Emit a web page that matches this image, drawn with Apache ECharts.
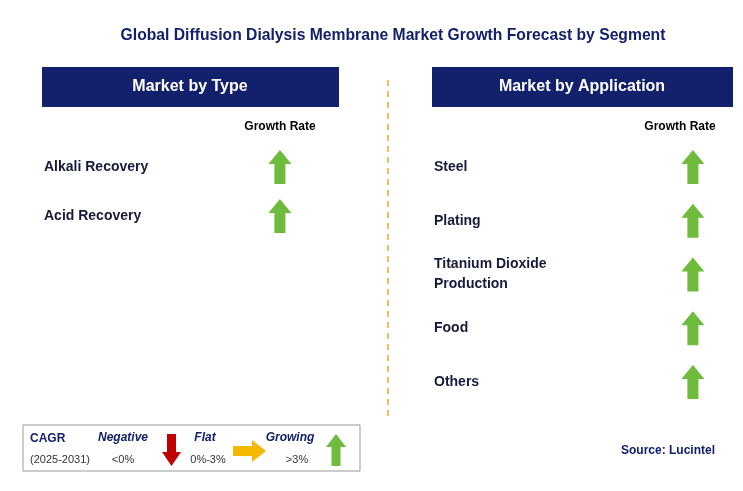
<!DOCTYPE html>
<html><head><meta charset="utf-8">
<script src="https://cdn.jsdelivr.net/npm/echarts@6/dist/echarts.min.js"></script>
<style>html,body{margin:0;padding:0;background:#fff}#c{width:743px;height:491px}</style>
</head><body><div id="c"></div>
<script>
const title = 'Global Diffusion Dialysis Membrane Market Growth Forecast by Segment';
const typeCategories = ['Alkali Recovery', 'Acid Recovery'];
const typeGrowth = ['up', 'up'];
const appCategories = ['Steel', 'Plating', 'Titanium Dioxide\nProduction', 'Food', 'Others'];
const appGrowth = ['up', 'up', 'up', 'up', 'up'];
const navy = '#13206b', txt = '#161a3c', green = '#6fbb3c';
const upArrow = 'path://M5,0 L10,6.2 L7.4,6.2 L7.4,15 L2.6,15 L2.6,6.2 L0,6.2 Z';
const F = 'Liberation Sans, Arial, sans-serif';

function rows(cats, gridIdx, arrowX) {
  return [
    {type:'scatter', xAxisIndex:gridIdx, yAxisIndex:gridIdx, symbolSize:0, silent:true,
     itemStyle:{opacity:1},
     data: cats.map(c => [0, c]),
     label:{show:true, position:'right', distance:0, formatter:p=>p.data[1], color:txt, opacity:1,
            fontFamily:F, fontWeight:'bold', fontSize:14, lineHeight:20}},
    {type:'scatter', xAxisIndex:gridIdx, yAxisIndex:gridIdx, symbol:upArrow, symbolSize:[23,34], silent:true,
     itemStyle:{color:green, opacity:1},
     data: cats.map((c,i) => [arrowX, c])}
  ];
}
const chart = echarts.init(document.getElementById('c'));
const hiddenX = i => ({type:'value', gridIndex:i, min:0, max:1, show:false});
const hiddenY = (i,cats) => ({type:'category', gridIndex:i, data:cats, inverse:true, boundaryGap:false, show:false});
chart.setOption({
  animation:false,
  title:{text:title, left:388, top:23, textAlign:'center',
    textStyle:{color:navy, fontFamily:F, fontSize:15.7, fontWeight:'bold'}},
  grid:[{left:44, width:296, top:167, height:49},
        {left:434, width:300, top:167, height:215}],
  xAxis:[hiddenX(0), hiddenX(1)],
  yAxis:[hiddenY(0,typeCategories), hiddenY(1,appCategories)],
  series:[...rows(typeCategories,0,0.797), ...rows(appCategories,1,0.863)],
  graphic:[
    {type:'rect', shape:{x:42,y:67,width:297,height:40}, style:{fill:navy}},
    {type:'text', x:190, y:87, style:{text:'Market by Type', fill:'#fff', font:'bold 16px '+F, align:'center', verticalAlign:'middle'}},
    {type:'rect', shape:{x:432,y:67,width:301,height:40}, style:{fill:navy}},
    {type:'text', x:582, y:87, style:{text:'Market by Application', fill:'#fff', font:'bold 16px '+F, align:'center', verticalAlign:'middle'}},
    {type:'text', x:280, y:127, style:{text:'Growth Rate', fill:'#000', font:'bold 12px '+F, align:'center', verticalAlign:'middle'}},
    {type:'text', x:680, y:127, style:{text:'Growth Rate', fill:'#000', font:'bold 12px '+F, align:'center', verticalAlign:'middle'}},
    {type:'line', shape:{x1:388,y1:80,x2:388,y2:420}, style:{stroke:'#f5a623', lineWidth:1.5, lineDash:[6,5]}},
    {type:'rect', shape:{x:23,y:425,width:337,height:46}, style:{fill:'#fff', stroke:'#999', lineWidth:1}},
    {type:'text', x:30, y:439, style:{text:'CAGR', fill:navy, font:'bold 12px '+F, verticalAlign:'middle'}},
    {type:'text', x:30, y:460, style:{text:'(2025-2031)', fill:'#333', font:'11px '+F, verticalAlign:'middle'}},
    {type:'text', x:123, y:438, style:{text:'Negative', fill:navy, font:'italic bold 12px '+F, align:'center', verticalAlign:'middle'}},
    {type:'text', x:123, y:460, style:{text:'<0%', fill:'#333', font:'11px '+F, align:'center', verticalAlign:'middle'}},
    {type:'polygon', shape:{points:[[167,434],[176,434],[176,452],[181,452],[171.5,466],[162,452],[167,452]]}, style:{fill:'#c00000'}},
    {type:'text', x:205, y:438, style:{text:'Flat', fill:navy, font:'italic bold 12px '+F, align:'center', verticalAlign:'middle'}},
    {type:'text', x:208, y:460, style:{text:'0%-3%', fill:'#333', font:'11px '+F, align:'center', verticalAlign:'middle'}},
    {type:'polygon', shape:{points:[[233,446],[252,446],[252,440],[266,451],[252,462],[252,456],[233,456]]}, style:{fill:'#f5b800'}},
    {type:'text', x:290, y:438, style:{text:'Growing', fill:navy, font:'italic bold 12px '+F, align:'center', verticalAlign:'middle'}},
    {type:'text', x:297, y:460, style:{text:'>3%', fill:'#333', font:'11px '+F, align:'center', verticalAlign:'middle'}},
    {type:'polygon', shape:{points:[[336,434],[346,447],[340.5,447],[340.5,466],[331.5,466],[331.5,447],[326,447]]}, style:{fill:green}},
    {type:'text', x:668, y:451, style:{text:'Source: Lucintel', fill:navy, font:'bold 12px '+F, align:'center', verticalAlign:'middle'}}
  ]
});
</script></body></html>
